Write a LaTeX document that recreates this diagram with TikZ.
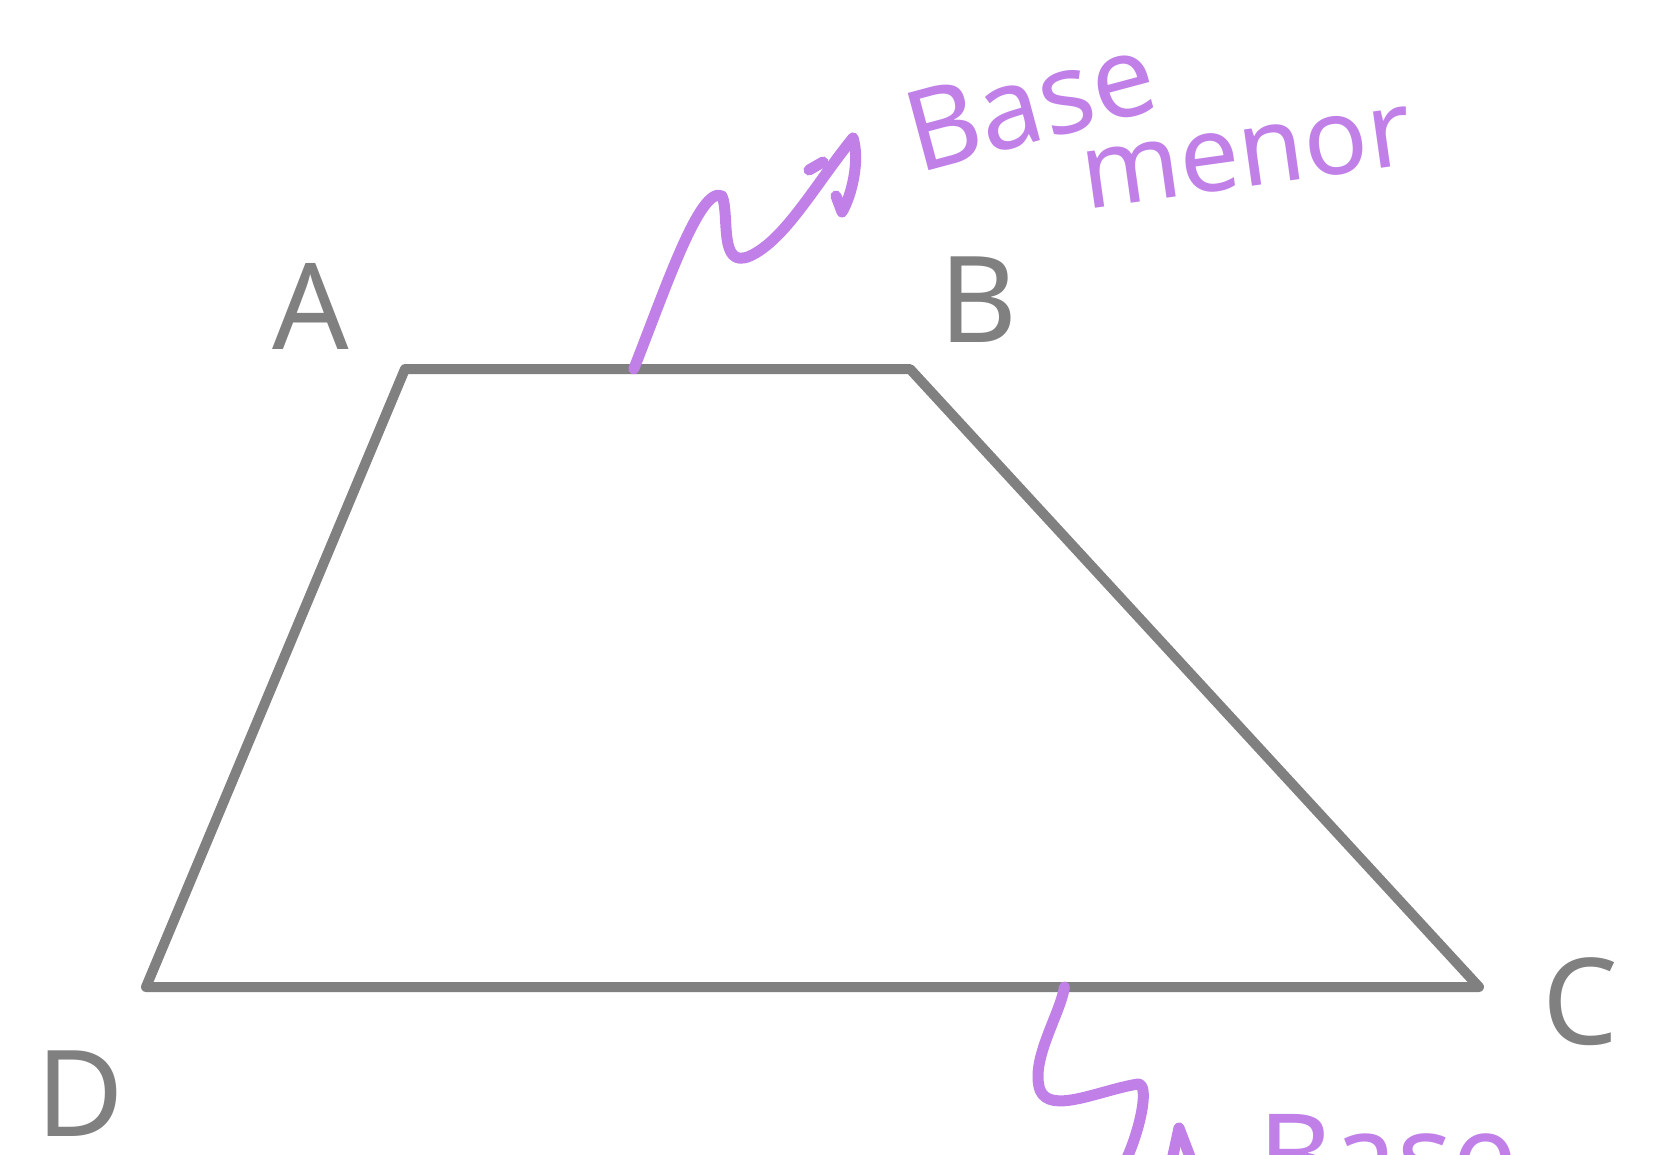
\documentclass[tikz,border=0pt]{standalone}
\usepackage{fontspec}
\setmainfont{Noto Sans}
\usepackage{xcolor}
\definecolor{inkgray}{HTML}{808080}
\definecolor{inkpurple}{HTML}{C080E8}
\usetikzlibrary{positioning,arrows.meta,calc}

\begin{document}
\begin{tikzpicture}[
  x=1pt, y=-1pt,
  side/.style={
    draw=inkgray, line width=10pt,
    line join=round, line cap=round,
  },
  vlabel/.style={
    text=inkgray, inner sep=0pt,
    font=\fontsize{120}{120}\selectfont,
  },
  squiggle/.style={
    draw=inkpurple, line width=11pt,
    line join=round, line cap=round,
  },
  note/.style={
    text=inkpurple, inner sep=0pt, align=left,
    font=\fontsize{112}{112}\selectfont,
  },
]

% === CANVAS ===
\useasboundingbox (0,0) rectangle (1665,1154);
\clip (0,0) rectangle (1665,1154);

% === TRAPEZOID ===
\coordinate (A) at (405,369);
\coordinate (B) at (910,369);
\coordinate (C) at (1479,987);
\coordinate (D) at (146,987);
\draw[side] (A) -- (B) -- (C) -- (D) -- cycle;

% --- vertex letters ---
\node[vlabel] (lblA) at (311,306)  {A};
\node[vlabel] (lblB) at (978,300)  {B};
\node[vlabel] (lblC) at (1580,1002) {C};
\node[vlabel] (lblD) at (80,1094)  {D};

% === BASE MENOR (top side AB) ===
\node[note, rotate=15] (lblbase) at (1030,103) {Base};
\node[note, rotate=8, font=\fontsize{106}{106}\selectfont] (lblmenor) at (1247,158) {menor};
\coordinate (ab) at ($(A)!0.453!(B)$);
\coordinate (tipmin) at (853,138);
\draw[squiggle] (ab) .. controls (665,290) and (700,185) .. (722,196)
  .. controls (730,215) and (718,270) .. (750,256)
  .. controls (785,240) and (815,185) .. (tipmin);
\draw[squiggle] (tipmin) .. controls (860,160) and (852,195) .. (842,212) -- (836,196);
\draw[squiggle] (809,170) -- (823,162);

% === BASE MAYOR (bottom side DC, cut off) ===
\node[note, anchor=north west, font=\fontsize{115}{115}\selectfont] (lblmax) at (1258,1114) {Base\\mayor};
\coordinate (dc) at ($(D)!0.689!(C)$);
\coordinate (tipmax) at (1179,1128);
\draw[squiggle] (dc) .. controls (1060,1015) and (1030,1060) .. (1040,1090)
  .. controls (1050,1115) and (1100,1090) .. (1138,1084)
  .. controls (1150,1084) and (1140,1130) .. (1126,1160)
  .. controls (1118,1185) and (1165,1190) .. (1172,1160) -- (tipmax);
\draw[squiggle] (tipmax) -- (1192,1162);

\end{tikzpicture}
\end{document}
